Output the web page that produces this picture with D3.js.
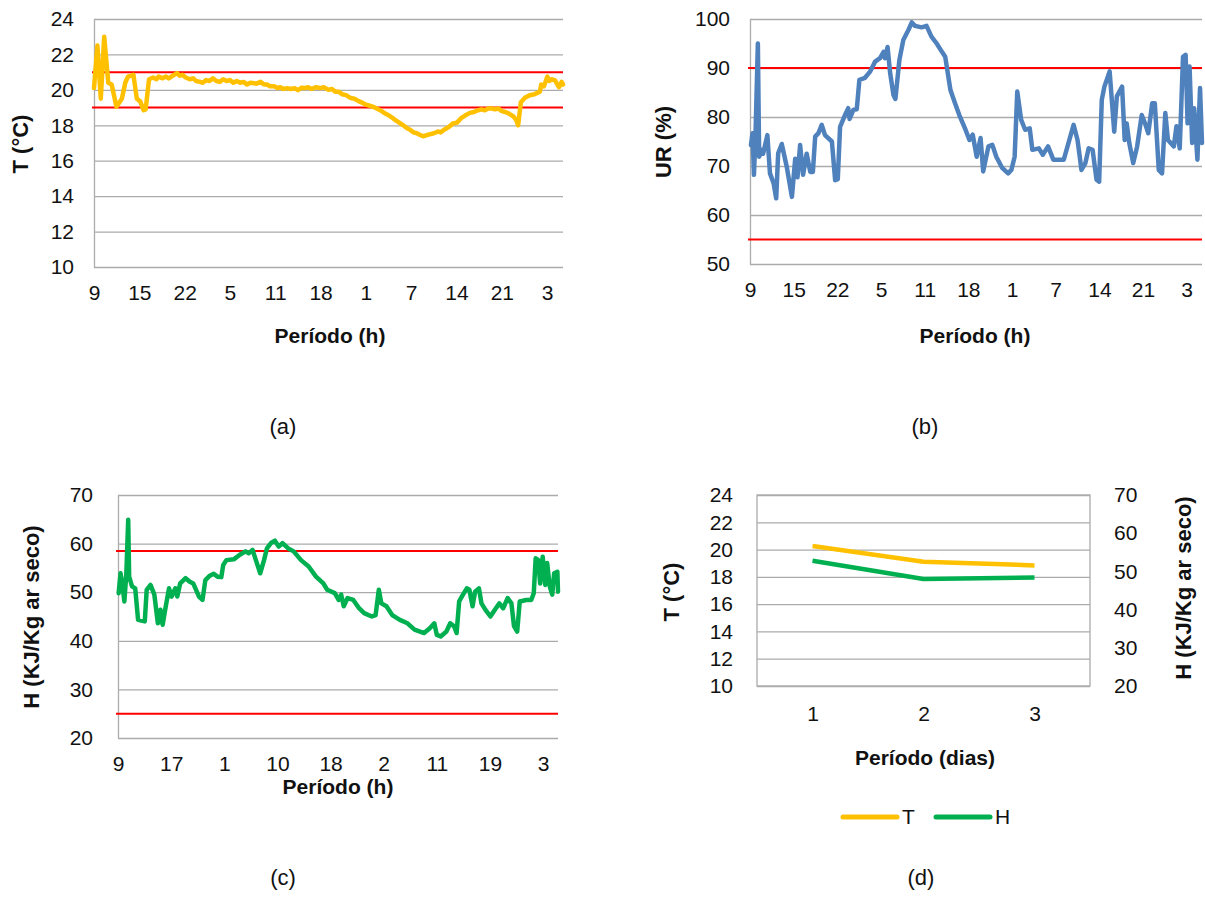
<!DOCTYPE html>
<html>
<head>
<meta charset="utf-8">
<script src="https://cdn.jsdelivr.net/npm/d3@7"></script>
<style>
  body { margin: 0; background: #fff; }
  text { font-family: "Liberation Sans", Arial, sans-serif; fill: #111; }
</style>
</head>
<body>
<div id="chart"></div>
<script>
// ---- data (hours since 9h of day 1, value) ----
const tempSeries = [[0,20.1],[0.5,22.5],[1.0,19.5],[1.5,23.0],[2.1,20.4],[2.6,20.3],[3.3,19.05],[4.1,19.5],[4.6,20.4],[5.0,20.75],[5.8,20.85],[6.3,19.5],[6.8,19.35],[7.3,18.85],[7.6,18.9],[8.1,20.6],[8.7,20.7],[9.2,20.6],[9.5,20.75],[10.1,20.65],[10.6,20.75],[11.0,20.65],[11.6,20.8],[12.2,20.95],[12.6,20.8],[13.0,20.85],[13.5,20.7],[14.1,20.6],[14.6,20.65],[15.0,20.5],[15.6,20.45],[16.0,20.4],[16.5,20.55],[17.0,20.5],[17.5,20.65],[18.0,20.5],[18.5,20.45],[19.0,20.6],[19.5,20.5],[20.0,20.55],[20.5,20.4],[21.0,20.5],[21.5,20.4],[22.0,20.45],[22.5,20.3],[23.0,20.4],[23.9,20.35],[24.5,20.45],[25.0,20.3],[25.5,20.3],[25.9,20.2],[26.5,20.2],[27.0,20.1],[27.4,20.15],[27.8,20.05],[28.4,20.1],[29.0,20.05],[29.5,20.1],[30.0,19.98],[30.5,20.12],[31.0,20.1],[31.5,20.15],[32.0,20.05],[32.6,20.15],[33.3,20.1],[33.8,20.15],[34.5,20.0],[35.0,20.05],[35.5,19.9],[36.0,19.9],[36.5,19.75],[37.1,19.7],[37.7,19.55],[38.3,19.5],[39.0,19.35],[39.6,19.25],[40.1,19.15],[40.6,19.1],[41.0,19.05],[41.6,18.95],[42.1,18.85],[42.7,18.7],[43.2,18.6],[43.8,18.45],[44.3,18.3],[44.9,18.15],[45.5,18.0],[46.0,17.85],[46.5,17.75],[47.0,17.6],[47.5,17.55],[48.0,17.45],[48.4,17.38],[49.0,17.45],[49.5,17.5],[50.0,17.55],[50.6,17.65],[51.0,17.6],[51.5,17.75],[52.2,17.9],[52.8,18.1],[53.4,18.15],[54.0,18.4],[54.6,18.55],[55.3,18.7],[55.9,18.75],[56.5,18.85],[57.0,18.9],[57.5,18.85],[58.0,18.95],[58.5,18.95],[59.0,18.9],[59.5,18.95],[60.0,18.8],[60.5,18.75],[61.1,18.65],[61.7,18.5],[62.1,18.3],[62.4,18.0],[62.8,19.3],[63.4,19.55],[64.1,19.7],[64.8,19.75],[65.6,19.9],[65.8,20.3],[66.2,20.2],[66.7,20.75],[67.0,20.5],[67.3,20.6],[67.8,20.55],[68.4,20.15],[68.8,20.45],[69,20.3]];

const urSeries = [[0.15,74.3],[0.4,76.7],[0.6,68.2],[0.85,76.7],[1.2,95.0],[1.4,71.9],[1.8,73.3],[2.0,72.5],[2.65,76.3],[3.05,68.5],[3.6,66.5],[4.0,63.4],[4.3,72.6],[4.85,74.5],[5.6,69.9],[6.4,63.7],[6.9,71.5],[7.25,67.7],[7.65,74.3],[8.1,68.2],[8.65,72.5],[9.2,68.8],[9.6,68.8],[9.95,76.0],[10.45,76.7],[10.95,78.4],[11.45,76.3],[12.5,75.0],[13.0,67.1],[13.4,67.3],[13.75,78.0],[14.5,80.4],[15.0,81.8],[15.2,79.6],[15.8,81.5],[16.3,81.6],[16.7,87.6],[17.55,88.0],[18.3,89.2],[19.1,91.3],[19.85,92.0],[20.4,93.3],[20.6,92.0],[21.0,94.3],[21.4,88.9],[21.9,84.5],[22.2,83.7],[22.8,91.6],[23.4,95.7],[24.2,97.8],[24.7,99.3],[25.2,98.6],[26.2,98.3],[26.95,98.6],[27.7,96.4],[28.5,95.0],[29.3,93.3],[29.8,92.3],[30.6,85.5],[31.3,82.8],[31.95,80.4],[32.9,77.4],[33.5,75.3],[34.0,76.4],[34.6,71.9],[35.2,75.7],[35.6,68.9],[36.4,74.0],[37.0,74.3],[37.6,71.9],[38.5,69.6],[39.4,68.5],[39.9,69.2],[40.4,71.9],[40.8,85.2],[41.4,79.4],[42.0,77.4],[42.7,77.7],[43.1,73.3],[44.1,73.6],[44.7,72.3],[45.5,74.0],[46.3,71.3],[47.9,71.3],[49.4,78.4],[50.0,75.3],[50.6,69.2],[51.2,70.6],[51.7,73.6],[52.3,73.3],[52.9,67.2],[53.3,66.8],[53.7,83.5],[54.1,86.2],[54.9,89.3],[55.6,77.0],[56.0,84.2],[56.8,86.2],[57.2,75.3],[57.5,78.7],[57.9,74.7],[58.5,70.6],[59.1,74.0],[59.8,80.4],[60.3,78.7],[60.8,76.7],[61.4,82.8],[61.8,82.8],[62.4,69.2],[62.9,68.5],[63.4,80.8],[63.8,75.3],[64.7,74.0],[65.1,78.1],[65.6,73.6],[66.1,92.3],[66.5,92.7],[66.8,78.7],[67.1,90.3],[67.5,74.7],[67.8,81.8],[68.3,71.3],[68.7,85.9],[69.0,74.7]];

const hSeries = [[0.1,49.8],[0.4,53.9],[0.7,51.5],[1.0,48.1],[1.3,53.6],[1.6,64.9],[1.75,53.2],[2.2,51.2],[2.7,50.8],[3.15,44.3],[4.2,44.0],[4.5,50.5],[5.1,51.5],[5.7,49.5],[6.25,43.6],[6.65,46.4],[7.0,43.3],[7.4,46.4],[8.0,50.8],[8.4,49.1],[9.0,50.8],[9.3,49.1],[9.75,51.8],[10.6,52.9],[11.2,52.2],[11.8,51.8],[12.7,49.1],[13.25,48.4],[13.7,52.5],[14.4,53.4],[15.0,53.8],[15.6,53.2],[16.2,53.1],[16.5,55.6],[17.0,56.6],[18.2,56.8],[19.1,57.7],[20.0,58.4],[20.5,58.0],[21.1,58.7],[21.7,56.3],[22.3,53.9],[22.9,56.6],[23.35,59.0],[24.05,60.2],[24.6,60.6],[25.2,59.4],[25.8,60.1],[26.7,59.0],[27.55,58.4],[28.7,56.6],[29.9,55.3],[31.05,53.2],[32.2,51.8],[32.8,50.5],[34.0,49.8],[34.6,48.4],[35.0,49.5],[35.4,47.1],[36.0,48.8],[36.9,48.4],[37.8,46.7],[38.6,45.7],[39.8,45.0],[40.4,45.3],[40.9,50.5],[41.3,47.7],[42.1,47.1],[43.0,45.3],[44.2,44.3],[45.4,43.6],[46.5,42.3],[48.0,41.6],[48.9,42.6],[49.6,43.6],[50.0,41.2],[50.6,40.9],[51.5,41.9],[52.1,43.6],[52.7,43.0],[53.1,41.6],[53.5,48.1],[54.1,49.5],[54.7,50.8],[55.1,50.5],[55.6,47.1],[56.0,50.1],[56.6,50.8],[57.0,47.7],[57.6,46.4],[58.4,45.0],[59.1,46.4],[59.8,47.7],[60.4,46.7],[61.1,48.8],[61.7,47.7],[62.1,43.0],[62.6,41.9],[63.0,48.1],[64.0,48.4],[64.8,48.4],[65.2,49.8],[65.5,57.0],[65.9,56.6],[66.2,51.8],[66.6,57.3],[67.0,51.5],[67.3,56.0],[67.7,51.2],[68.1,49.5],[68.4,53.9],[68.9,54.2],[69,50.1]];

// tick labels (hour of day), one every 20 readings (6h40) for a/b, every 25 (8h20) for c
const hourLabelsAB = ['9','15','22','5','11','18','1','7','14','21','3'];
const hourLabelsC = ['9','17','1','10','18','2','11','19','3'];
const stepAB = 20 / 3, stepC = 25 / 3;

// limit lines
const limitsT = [19, 21];
const limitsUR = [55, 90];
const limitsH = [25, 58.5];

// daily means (d)
const days = ['1', '2', '3'];
const dailyT = [20.26, 19.1, 18.84];
const dailyH = [52.8, 48.0, 48.4];

const spanHours = 69;

const svg = d3.select('#chart').append('svg')
  .attr('width', 1205).attr('height', 913);

const gridColor = '#ababab';
const tickSize = 21;

function styleAxis(g, size) {
  g.selectAll('text').style('font-size', size + 'px').attr('fill', '#111');
}

function hourPanel(o) {
  const x = d3.scaleLinear().domain([0, spanHours]).range([o.x0, o.x1]);
  const y = d3.scaleLinear().domain(o.yDomain).range([o.y1, o.y0]);
  const g = svg.append('g');

  // y axis + gridlines
  const yAxis = d3.axisLeft(y)
    .tickValues(d3.range(o.yDomain[0], o.yDomain[1] + 0.01, o.yStep))
    .tickSize(-(o.x1 - o.x0)).tickSizeOuter(0)
    .tickPadding(o.yPad);
  const ya = g.append('g').attr('transform', `translate(${o.x0},0)`).call(yAxis);
  ya.selectAll('.tick line').attr('stroke', gridColor).attr('stroke-width', 1.3);
  ya.select('.domain').attr('stroke', gridColor).attr('stroke-width', 1.3);
  styleAxis(ya, tickSize);

  // x axis labels
  const xAxis = d3.axisBottom(x)
    .tickValues(o.labels.map((d, i) => i * o.step))
    .tickFormat((d, i) => o.labels[i])
    .tickSize(0).tickPadding(18);
  const xa = g.append('g').attr('transform', `translate(0,${o.y1})`).call(xAxis);
  xa.select('.domain').remove();
  styleAxis(xa, tickSize);

  // limit lines
  g.selectAll('line.limit').data(o.limits).enter().append('line')
    .attr('class', 'limit')
    .attr('x1', o.x0 - 2).attr('x2', o.x1)
    .attr('y1', d => y(d)).attr('y2', d => y(d))
    .attr('stroke', '#ff0000').attr('stroke-width', 2);

  // series
  const line = d3.line().x(d => x(d[0])).y(d => y(d[1]));
  g.append('path').datum(o.series)
    .attr('fill', 'none').attr('stroke', o.color)
    .attr('stroke-width', 4.5).attr('stroke-linejoin', 'round').attr('stroke-linecap', 'round')
    .attr('d', line);

  // titles
  g.append('text').attr('x', o.xTitle[0]).attr('y', o.xTitle[1])
    .attr('text-anchor', 'middle').style('font-size', '21px').style('font-weight', 'bold')
    .text('Período (h)');
  g.append('text')
    .attr('transform', `translate(${o.yTitle[0]},${o.yTitle[1]}) rotate(-90)`)
    .attr('text-anchor', 'middle').attr('dy', '0.35em')
    .style('font-size', '22px').style('font-weight', 'bold')
    .text(o.yLabel);
  g.append('text').attr('x', o.tag[0]).attr('y', o.tag[1])
    .attr('text-anchor', 'middle').style('font-size', '22px')
    .text(o.tagText);
}

hourPanel({
  x0: 94, x1: 563, y0: 19, y1: 267, yDomain: [10, 24], yStep: 2, yPad: 20,
  labels: hourLabelsAB, step: stepAB, limits: limitsT, series: tempSeries, color: '#ffc000',
  xTitle: [330, 343], yTitle: [20, 144], yLabel: 'T (°C)', tag: [283, 434], tagText: '(a)'
});

hourPanel({
  x0: 750, x1: 1202, y0: 19, y1: 264, yDomain: [50, 100], yStep: 10, yPad: 20,
  labels: hourLabelsAB, step: stepAB, limits: limitsUR, series: urSeries, color: '#4f81bd',
  xTitle: [975, 343], yTitle: [663, 142], yLabel: 'UR (%)', tag: [925, 434], tagText: '(b)'
});

hourPanel({
  x0: 118, x1: 558, y0: 495, y1: 738, yDomain: [20, 70], yStep: 10, yPad: 25,
  labels: hourLabelsC, step: stepC, limits: limitsH, series: hSeries, color: '#00b050',
  xTitle: [338, 794], yTitle: [31, 617], yLabel: 'H (KJ/Kg ar seco)', tag: [283, 885], tagText: '(c)'
});

// ---- panel (d): daily means, two y axes ----
(function () {
  const x0 = 757, x1 = 1090, y0 = 495, y1 = 686;
  const x = d3.scalePoint().domain(days).range([x0, x1]).padding(0.5);
  const yT = d3.scaleLinear().domain([10, 24]).range([y1, y0]);
  const yH = d3.scaleLinear().domain([20, 70]).range([y1, y0]);
  const g = svg.append('g');

  const ya = g.append('g').attr('transform', `translate(${x0},0)`)
    .call(d3.axisLeft(yT).tickValues(d3.range(10, 25, 2)).tickSize(-(x1 - x0)).tickSizeOuter(0).tickPadding(24));
  ya.selectAll('.tick line').attr('stroke', gridColor).attr('stroke-width', 1.3);
  ya.select('.domain').remove();
  styleAxis(ya, tickSize);

  const yb = g.append('g').attr('transform', `translate(${x1},0)`)
    .call(d3.axisRight(yH).tickValues(d3.range(20, 71, 10)).tickSize(0).tickPadding(24));
  yb.select('.domain').remove();
  styleAxis(yb, tickSize);

  g.append('rect').attr('x', x0).attr('y', y0)
    .attr('width', x1 - x0).attr('height', y1 - y0)
    .attr('fill', 'none').attr('stroke', gridColor).attr('stroke-width', 1.3);

  const xa = g.append('g').attr('transform', `translate(0,${y1})`)
    .call(d3.axisBottom(x).tickSize(0).tickPadding(20));
  xa.select('.domain').remove();
  styleAxis(xa, tickSize);

  const lineT = d3.line().x((d, i) => x(days[i])).y(d => yT(d));
  const lineH = d3.line().x((d, i) => x(days[i])).y(d => yH(d));
  g.append('path').datum(dailyT).attr('fill', 'none').attr('stroke', '#ffc000')
    .attr('stroke-width', 4.5).attr('stroke-linejoin', 'round').attr('d', lineT);
  g.append('path').datum(dailyH).attr('fill', 'none').attr('stroke', '#00b050')
    .attr('stroke-width', 4.5).attr('stroke-linejoin', 'round').attr('d', lineH);

  g.append('text').attr('x', 925).attr('y', 765).attr('text-anchor', 'middle')
    .style('font-size', '21px').style('font-weight', 'bold').text('Período (dias)');
  g.append('text').attr('transform', 'translate(671,592) rotate(-90)')
    .attr('text-anchor', 'middle').attr('dy', '0.35em')
    .style('font-size', '22px').style('font-weight', 'bold').text('T (°C)');
  g.append('text').attr('transform', 'translate(1183,588) rotate(-90)')
    .attr('text-anchor', 'middle').attr('dy', '0.35em')
    .style('font-size', '22px').style('font-weight', 'bold').text('H (KJ/Kg ar seco)');

  // legend
  const legend = [{ name: 'T', color: '#ffc000', x: 843 }, { name: 'H', color: '#00b050', x: 936 }];
  const lg = g.selectAll('g.legend').data(legend).enter().append('g').attr('class', 'legend');
  lg.append('line').attr('x1', d => d.x).attr('x2', d => d.x + 54)
    .attr('y1', 817).attr('y2', 817).attr('stroke', d => d.color)
    .attr('stroke-width', 5).attr('stroke-linecap', 'round');
  lg.append('text').attr('x', d => d.x + 59).attr('y', 824)
    .style('font-size', '21px').text(d => d.name);

  g.append('text').attr('x', 921).attr('y', 885).attr('text-anchor', 'middle')
    .style('font-size', '22px').text('(d)');
})();
</script>
</body>
</html>
